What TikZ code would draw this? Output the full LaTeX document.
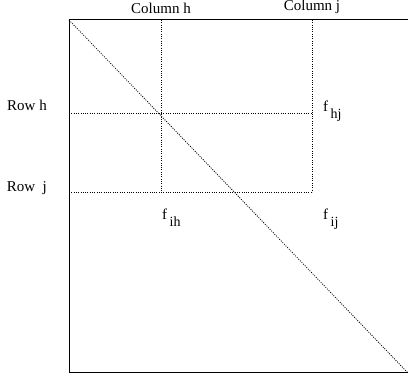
\documentclass[tikz,border=0pt]{standalone}
\usepackage{fontspec}
\setmainfont{Liberation Serif}
\usetikzlibrary{positioning}

\newcommand{\fsub}[1]{f\,\raisebox{-7pt}{\fontsize{14}{15}\selectfont #1}}

\begin{document}
\begin{tikzpicture}[
  x=1pt,y=-1pt,
  frame/.style={line width=1pt},
  guide/.style={line width=0.8pt,dash pattern=on 1pt off 1.3pt},
  lbl/.style={font=\fontsize{15}{17}\selectfont,inner sep=0pt}
]
  \useasboundingbox (0,0) rectangle (408,379);

  % matrix corners
  \coordinate (tl) at (69,20);
  \coordinate (tr) at (408,20);
  \coordinate (bl) at (69,373);
  \coordinate (br) at (408,373);
  % rows and columns
  \coordinate (colh) at (161,20);
  \coordinate (colj) at (312,20);
  \coordinate (rowh) at (69,113);
  \coordinate (rowj) at (69,192);
  \coordinate (hj) at (312,113);
  \coordinate (ih) at (161,192);
  \coordinate (ij) at (312,192);

  \draw[frame] (tr) -- (tl) -- (bl) -- (br);
  \draw[guide] (tl) -- (br);
  \draw[guide] (rowh) -- (hj) -- (ij);
  \draw[guide] (rowj) -- (ij);
  \draw[guide] (colh) -- (ih);
  \draw[guide] (colj) -- (hj);

  \node[lbl,above=6pt of colh] (lcolh) {Column h};
  \node[lbl,above=6pt of colj] (lcolj) {Column j};
  \node[lbl,anchor=base east] (lrowh) at ([xshift=-22pt,yshift=2pt]rowh) {Row h};
  \node[lbl,anchor=base east] (lrowj) at ([xshift=-22pt]rowj) {Row\ \ j};

  \node[lbl,anchor=base west] (fhj) at ([xshift=11pt,yshift=1pt]hj) {\fsub{hj}};
  \node[lbl,anchor=base west] (fih) at ([xshift=1pt,yshift=-28pt]ih) {\fsub{ih}};
  \node[lbl,anchor=base west] (fij) at ([xshift=11pt,yshift=-28pt]ij) {\fsub{ij}};
\end{tikzpicture}
\end{document}
